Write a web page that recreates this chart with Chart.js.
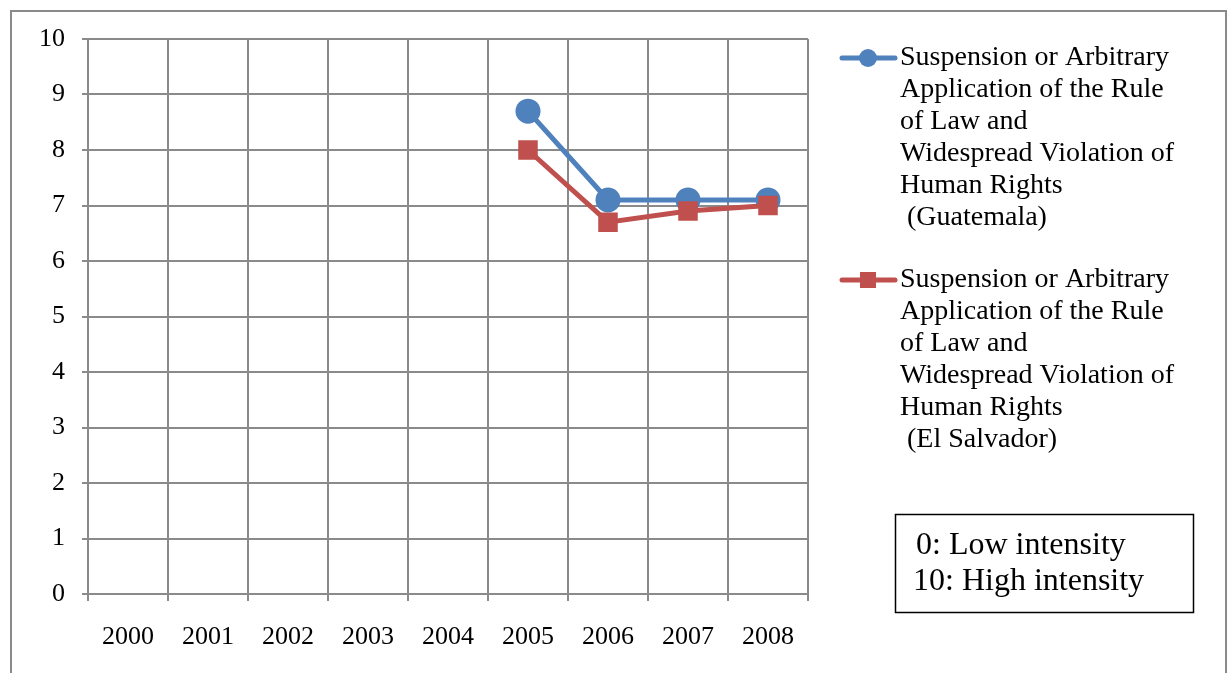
<!DOCTYPE html>
<html>
<head>
<meta charset="utf-8">
<script src="https://cdn.jsdelivr.net/npm/chart.js@4"></script>
<style>
  html, body { margin: 0; padding: 0; background: #fff; }
  #wrap { width: 1232px; height: 673px; }
</style>
</head>
<body>
<div id="wrap"><canvas id="chart" width="1232" height="673"></canvas></div>
<script>
const years = ['2000', '2001', '2002', '2003', '2004', '2005', '2006', '2007', '2008'];
const guatemala = [null, null, null, null, null, 8.7, 7.1, 7.1, 7.1];
const elSalvador = [null, null, null, null, null, 8.0, 6.7, 6.9, 7.0];
const legendLines = [
    ['Suspension or Arbitrary', 'Application of the Rule', 'of Law and', 'Widespread Violation of', 'Human Rights', ' (Guatemala)'],
    ['Suspension or Arbitrary', 'Application of the Rule', 'of Law and', 'Widespread Violation of', 'Human Rights', ' (El Salvador)']
];
const noteLines = ['0: Low intensity', '10: High intensity'];

const FONT = "'Liberation Serif', 'Times New Roman', serif";
const GRID = '#8a8a8a';

// frame, legend and note box drawn by hand
const extras = {
    id: 'extras',
    afterDraw(chart) {
        const ctx = chart.ctx;
        ctx.save();
        ctx.strokeStyle = GRID;
        ctx.lineWidth = 2;
        ctx.beginPath();
        ctx.moveTo(11, 700);
        ctx.lineTo(11, 11);
        ctx.lineTo(1226, 11);
        ctx.lineTo(1226, 700);
        ctx.stroke();

        ctx.font = '28px ' + FONT;
        ctx.textBaseline = 'middle';
        ctx.fillStyle = '#000';
        const tops = [58, 280];
        chart.data.datasets.forEach((ds, i) => {
            const y = tops[i];
            ctx.strokeStyle = ds.borderColor;
            ctx.lineWidth = 5;
            ctx.lineCap = 'round';
            ctx.beginPath();
            ctx.moveTo(842, y);
            ctx.lineTo(895, y);
            ctx.stroke();
            ctx.fillStyle = ds.backgroundColor;
            if (ds.pointStyle === 'circle') {
                ctx.beginPath();
                ctx.arc(868, y, 9, 0, Math.PI * 2);
                ctx.fill();
            } else {
                ctx.fillRect(860, y - 8, 16, 16);
            }
            ctx.fillStyle = '#000';
            legendLines[i].forEach((t, k) => ctx.fillText(t, 900, y + k * 32));
        });

        ctx.strokeStyle = '#000';
        ctx.lineWidth = 1.5;
        ctx.strokeRect(895.5, 514.5, 298, 98);
        ctx.font = '32px ' + FONT;
        ctx.fillText(noteLines[0], 916, 546);
        ctx.fillText(noteLines[1], 913, 582);
        ctx.restore();
    }
};

const ctx = document.getElementById('chart').getContext('2d');
new Chart(ctx, {
    type: 'line',
    data: {
        labels: years,
        datasets: [
            {
                label: 'Guatemala',
                data: guatemala,
                borderColor: '#4F81BD',
                backgroundColor: '#4F81BD',
                borderWidth: 5,
                pointStyle: 'circle',
                pointRadius: 12.5,
                pointBorderWidth: 0,
                tension: 0,
                order: 1,
                fill: false
            },
            {
                label: 'El Salvador',
                data: elSalvador,
                borderColor: '#C0504D',
                backgroundColor: '#C0504D',
                borderWidth: 5,
                pointStyle: 'rect',
                pointRadius: 13.8,
                pointBorderWidth: 0,
                tension: 0,
                order: 0,
                fill: false
            }
        ]
    },
    options: {
        responsive: false,
        animation: false,
        layout: { padding: { left: 0, right: 424, top: 39, bottom: 0 } },
        plugins: {
            legend: { display: false },
            tooltip: { enabled: false }
        },
        scales: {
            x: {
                offset: true,
                grid: { color: GRID, lineWidth: 2, tickLength: 7, offset: true },
                border: { color: GRID, width: 2 },
                ticks: { color: '#000', font: { family: FONT, size: 26 }, padding: 21, maxRotation: 0 },
                afterFit(scale) { scale.height = 79; scale.paddingLeft = 0; scale.paddingRight = 0; }
            },
            y: {
                min: 0,
                max: 10,
                grid: { color: GRID, lineWidth: 2, tickLength: 6 },
                border: { color: GRID, width: 2 },
                ticks: { stepSize: 1, color: '#000', font: { family: FONT, size: 26 }, padding: 17 },
                afterFit(scale) { scale.width = 88; scale.paddingTop = 0; scale.paddingBottom = 0; }
            }
        }
    },
    plugins: [extras]
});
</script>
</body>
</html>
